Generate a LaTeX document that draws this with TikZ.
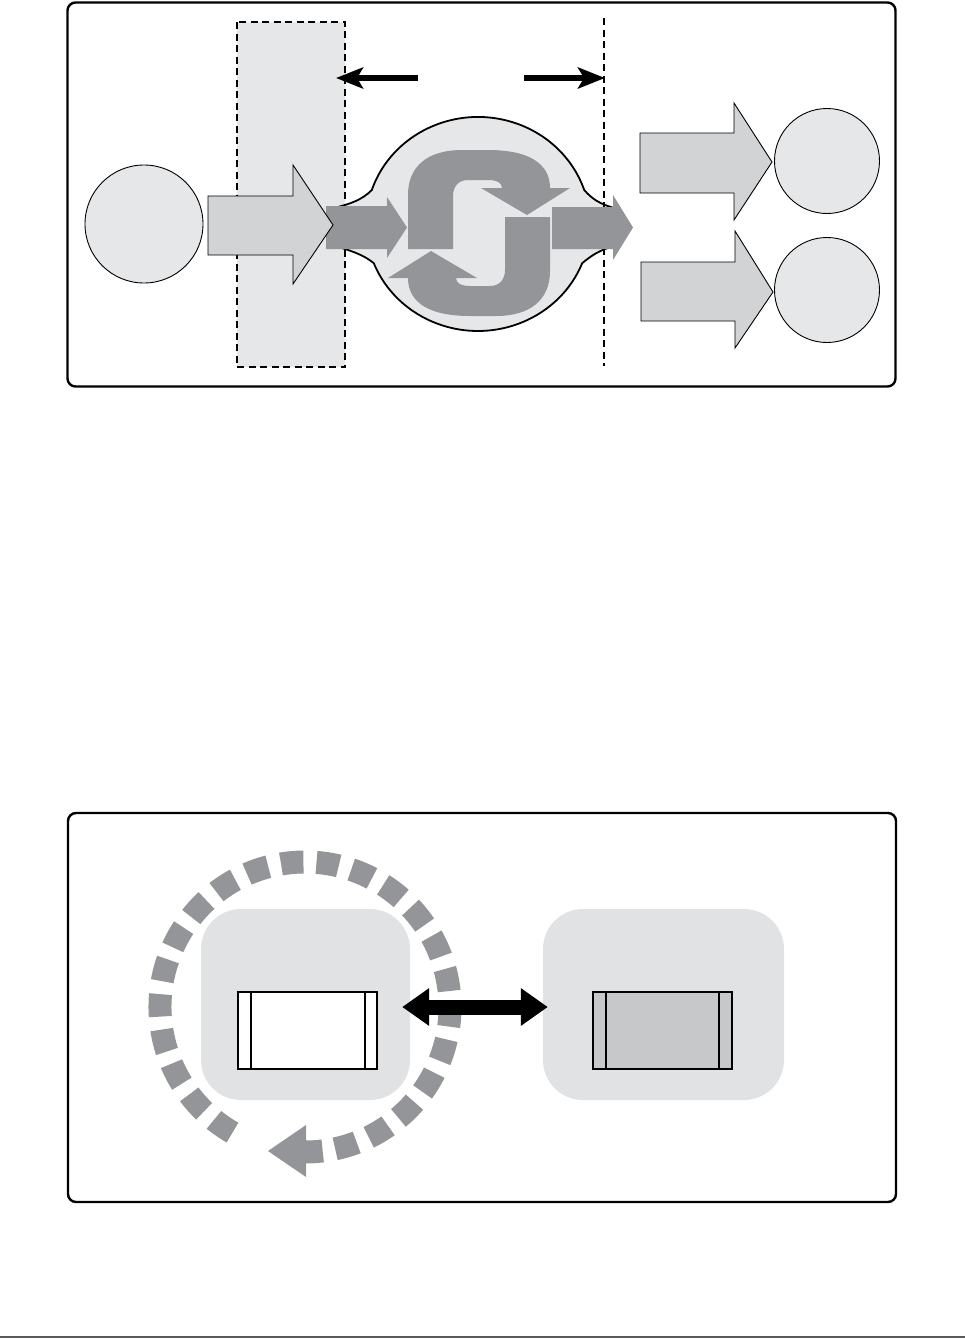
\documentclass[tikz,border=0pt]{standalone}
\usetikzlibrary{arrows.meta}
\definecolor{lightfill}{HTML}{E6E7E8}
\definecolor{arrowlight}{HTML}{D1D3D4}
\definecolor{darkgray}{HTML}{939598}
\definecolor{sqfill}{HTML}{E1E2E3}
\definecolor{boxgray}{HTML}{C7C8CA}
\definecolor{rulegray}{HTML}{5A5A5A}
\tikzset{
  frame/.style={draw=black, line width=2.4pt, rounded corners=8pt},
  dashbox/.style={draw=black, line width=1.4pt, dash pattern=on 7pt off 4.5pt},
  lightarrow/.style={fill=arrowlight, draw=black, line width=0.9pt, line join=miter},
  darkarrow/.style={fill=darkgray},
  ball/.style={circle, fill=lightfill, draw=black, line width=0.9pt, inner sep=0pt},
  blackarrow/.style={line width=5.5pt, -{Stealth[length=27pt,width=21pt,inset=6pt]}},
  roundsq/.style={fill=sqfill, rounded corners=40pt, minimum width=209pt, minimum height=191pt, inner sep=0pt},
  chip/.style={draw=black, line width=1.2pt, minimum width=139pt, minimum height=77pt, inner sep=0pt},
  dblarrow/.style={line width=15pt, {Triangle[length=27pt,width=36pt]}-{Triangle[length=27pt,width=36pt]}},
}
\newcommand\myhookshape{%
  (408,249) -- (408,195) .. controls (408,166) and (428,150) .. (462,150) -- (488,150)
      .. controls (528,150) and (550,163) .. (550,188) -- (570,188) -- (527,215) -- (481,188) -- (502,188)
      .. controls (502,183) and (497,180) .. (488,180) -- (468,180) .. controls (459,180) and (453,186) .. (453,196)
      -- (453,249) -- cycle}
\begin{document}
\begin{tikzpicture}[x=1pt,y=-1pt]
\useasboundingbox (0,0) rectangle (965,1339);

% ===== top panel =====
\draw[frame] (67.5,2.5) rectangle (895.5,386.5);
\draw[dashbox, fill=lightfill] (237,22) rectangle (345,367);
\coordinate (rectE) at (336,78);

% blob
\draw[fill=lightfill, draw=black, line width=1.8pt]
  (334,208) .. controls (350,204) and (362,200) .. (371.8,190)
  arc[start angle=198.5, end angle=341.5, x radius=112, y radius=107]
  .. controls (592,199) and (600,204) .. (614,208)
  -- (614,246)
  .. controls (600,250) and (592,255) .. (582.2,263.2)
  arc[start angle=21.5, end angle=158.5, x radius=112, y radius=107]
  .. controls (364,255) and (350,250) .. (334,246) -- cycle;

% dashed line on right
\draw[dashbox] (604,18) -- (604,366);
\coordinate (lineE) at (605,78);

% dark arrows
\fill[darkarrow] (326,206) -- (387,206) -- (387,197) -- (407,227.5) -- (387,258) -- (387,249) -- (326,249) -- cycle;
\fill[darkarrow] (552,207) -- (613,207) -- (613,195) -- (633,227.5) -- (613,260) -- (613,249) -- (552,249) -- cycle;

% recycle symbol
\fill[darkarrow] \myhookshape;
\fill[darkarrow, rotate around={180:(479,233)}] \myhookshape;

% light arrows
\draw[lightarrow] (208,196) -- (293,196) -- (293,165) -- (333,225) -- (293,284) -- (293,255) -- (208,255) -- cycle;
\draw[lightarrow] (640,133) -- (734,133) -- (734,103) -- (772,162) -- (734,220) -- (734,193) -- (640,193) -- cycle;
\draw[lightarrow] (641,262) -- (735,262) -- (735,231) -- (773,292) -- (735,348) -- (735,321) -- (641,321) -- cycle;

% circles
\node[ball, minimum size=118pt] (src) at (144,224) {};
\node[ball, minimum size=105pt] (outA) at (827,161) {};
\node[ball, minimum size=105pt] (outB) at (827,290) {};

% black arrows
\coordinate (aL) at (418,78);
\coordinate (aR) at (524,78);
\draw[blackarrow] (aL) -- (rectE);
\draw[blackarrow] (aR) -- (lineE);

% ===== bottom panel =====
\draw[frame] (68,813) rectangle (896,1202);
\node[roundsq] (L) at (305.5,1004.5) {};
\node[roundsq, minimum width=241pt] (R) at (663.5,1004.5) {};

% dashed circular arrow
\draw[darkgray, line width=23pt, dash pattern=on 22.5pt off 13.06pt]
  (305,1007) ++(120:145) arc[start angle=120, end angle=438, radius=145];
\draw[darkgray, line width=23pt] (305,1007) ++(83:145) arc[start angle=83, end angle=91, radius=145];
\fill[darkgray] (306,1125) -- (268,1151) -- (306,1177) -- cycle;

% chips
\node[chip, fill=white] (c1) at (307.5,1030.5) {};
\draw[line width=1.2pt] (251,992) -- (251,1069) (365,992) -- (365,1069);
\node[chip, fill=boxgray] (c2) at (662.5,1030.5) {};
\draw[line width=1.2pt] (606,992) -- (606,1069) (719,992) -- (719,1069);

% double arrow
\draw[dblarrow] ([xshift=-8pt]L.east |- 0,1007) -- ([xshift=5pt]R.west |- 0,1007);

% bottom rule
\draw[rulegray, line width=2pt] (0,1337) -- (965,1337);
\end{tikzpicture}
\end{document}
